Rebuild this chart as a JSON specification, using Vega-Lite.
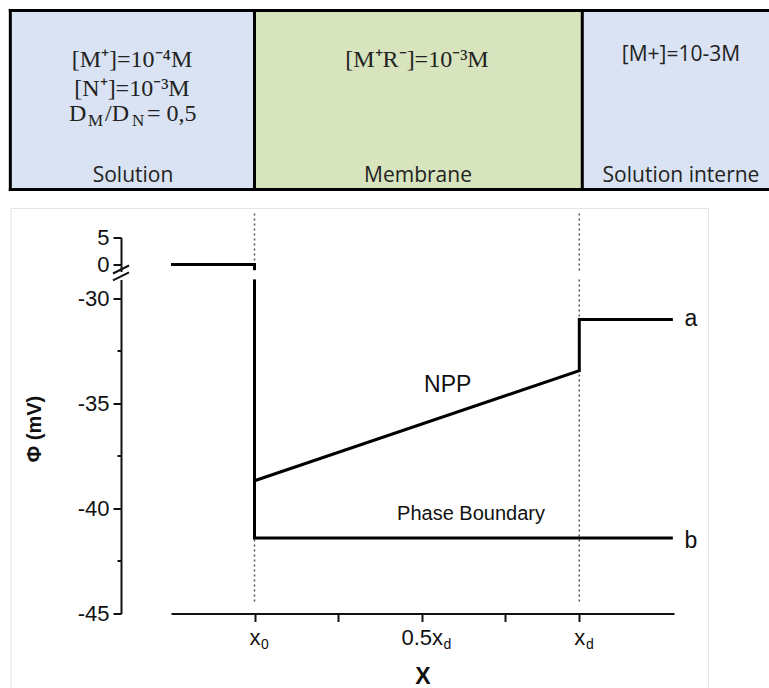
{
  "$schema": "https://vega.github.io/schema/vega-lite/v6.json",
  "autosize": {"type": "pad"},
  "padding": {"left": 8, "top": 7.5, "right": 0, "bottom": 0},
  "bounds": "flush",
  "spacing": 8,
  "background": "white",
  "config": {
    "view": {"stroke": null},
    "font": "Liberation Sans",
    "axis": {
      "grid": false,
      "domainColor": "#111111",
      "tickColor": "#111111",
      "labelColor": "#111111",
      "titleColor": "#111111",
      "domainWidth": 2,
      "tickWidth": 2,
      "labelFont": "Liberation Sans",
      "titleFont": "Liberation Sans",
      "labelOverlap": false,
      "labelFlush": false,
      "labelBound": false
    }
  },
  "datasets": {
    "boxes": [
      {"zone": "Solution", "x": -0.7518, "x2": 0, "y": 0, "y2": 100},
      {"zone": "Membrane", "x": 0, "x2": 1.0092, "y": 0, "y2": 100},
      {"zone": "Solution interne", "x": 1.0092, "x2": 1.5871, "y": 0, "y2": 100}
    ],
    "borders": [
      {"x": -0.7518, "x2": -0.7518, "y": 0, "y2": 100},
      {"x": 0, "x2": 0, "y": 0, "y2": 100},
      {"x": 1.0092, "x2": 1.0092, "y": 0, "y2": 100},
      {"x": -0.7518, "x2": 1.5825, "y": 0, "y2": 0},
      {"x": -0.7518, "x2": 1.5825, "y": 100, "y2": 100}
    ],
    "serifCentered": [
      {"t": "[M⁺]=10⁻⁴M", "x": -0.3772, "y": 72.6},
      {"t": "[N⁺]=10⁻³M", "x": -0.3772, "y": 56.4},
      {"t": "[M⁺R⁻]=10⁻³M", "x": 0.5003, "y": 72.1}
    ],
    "serifPieces": [
      {"t": "D", "x": -0.5711, "y": 41.9},
      {"t": "/D", "x": -0.4603, "y": 41.9},
      {"t": "= 0,5", "x": -0.3310, "y": 41.9}
    ],
    "subscripts": [
      {"t": "M", "x": -0.5126, "y": 38.0},
      {"t": "N", "x": -0.3772, "y": 38.0}
    ],
    "sansLabels": [
      {"t": "Solution", "x": -0.3741, "y": 7.8},
      {"t": "Membrane", "x": 0.5034, "y": 7.8},
      {"t": "Solution interne", "x": 1.3131, "y": 7.3},
      {"t": "[M+]=10-3M", "x": 1.3131, "y": 74.9}
    ],
    "topPath": [
      {"i": 0, "x": -0.2571, "y": 0},
      {"i": 1, "x": 0, "y": 0},
      {"i": 2, "x": 0, "y": -1.0}
    ],
    "topDotted": [
      {"x": 0, "y": 9.44, "y2": -1.3},
      {"x": 1, "y": 9.44, "y2": -1.3}
    ],
    "topFrame": [
      {"x": -0.7497, "x2": 1.3978, "y": 10.37, "y2": 10.37},
      {"x": -0.7497, "x2": -0.7497, "y": 10.37, "y2": -1.3},
      {"x": 1.3978, "x2": 1.3978, "y": 10.37, "y2": -1.3}
    ],
    "breakMarks": [
      {"x": -0.4357, "x2": -0.3864, "y": -1.67, "y2": -0.185},
      {"x": -0.4357, "x2": -0.3864, "y": -2.96, "y2": -1.48}
    ],
    "mainFrame": [
      {"x": -0.7497, "y": -28.714, "y2": -48.62},
      {"x": 1.3978, "y": -28.714, "y2": -48.62}
    ],
    "mainDotted": [
      {"x": 0, "y": -29.1, "y2": -44.43},
      {"x": 1, "y": -29.1, "y2": -44.43}
    ],
    "profiles": [
      {"series": "a", "i": 0, "x": 0, "y": -38.68},
      {"series": "a", "i": 1, "x": 1, "y": -33.44},
      {"series": "a", "i": 2, "x": 1, "y": -31.01},
      {"series": "a", "i": 3, "x": 1.288, "y": -31.01},
      {"series": "b", "i": 0, "x": 0, "y": -29.1},
      {"series": "b", "i": 1, "x": 0, "y": -41.41},
      {"series": "b", "i": 2, "x": 1.288, "y": -41.41}
    ],
    "bigLabels": [
      {"t": "NPP", "x": 0.5948, "y": -34.14},
      {"t": "a", "x": 1.3439, "y": -31.0},
      {"t": "b", "x": 1.3439, "y": -41.57}
    ],
    "smallLabels": [
      {"t": "Phase Boundary", "x": 0.6666, "y": -40.24}
    ]
  },
  "vconcat": [
    {
      "width": 503,
      "height": 219,
      "encoding": {
        "x": {"field": "x", "type": "quantitative", "axis": null, "scale": {"domain": [-0.2571, 1.2916], "nice": false, "zero": false}},
        "y": {"field": "y", "type": "quantitative", "axis": null, "scale": {"domain": [-22.35, 100], "nice": false, "zero": false}}
      },
      "layer": [
        {
          "data": {"name": "boxes"},
          "mark": {"type": "rect", "clip": false, "opacity": 1},
          "encoding": {
            "x2": {"field": "x2"},
            "y2": {"field": "y2"},
            "fill": {"field": "zone", "type": "nominal", "legend": null, "scale": {"domain": ["Solution", "Membrane", "Solution interne"], "range": ["#d9e3f3", "#d7e4bd", "#d9e3f3"]}}
          }
        },
        {
          "data": {"name": "borders"},
          "mark": {"type": "rule", "color": "#000000", "strokeWidth": 3, "strokeCap": "square"},
          "encoding": {"x2": {"field": "x2"}, "y2": {"field": "y2"}}
        },
        {
          "data": {"name": "serifCentered"},
          "mark": {"type": "text", "font": "Liberation Serif", "fontSize": 24, "color": "#222222", "align": "center", "baseline": "middle"},
          "encoding": {"text": {"field": "t"}}
        },
        {
          "data": {"name": "serifPieces"},
          "mark": {"type": "text", "font": "Liberation Serif", "fontSize": 24, "color": "#222222", "align": "left", "baseline": "middle"},
          "encoding": {"text": {"field": "t"}}
        },
        {
          "data": {"name": "subscripts"},
          "mark": {"type": "text", "font": "Liberation Serif", "fontSize": 17, "color": "#222222", "align": "left", "baseline": "middle"},
          "encoding": {"text": {"field": "t"}}
        },
        {
          "data": {"name": "sansLabels"},
          "mark": {"type": "text", "font": "Open Sans", "fontSize": 21, "color": "#222222", "align": "center", "baseline": "middle"},
          "encoding": {"text": {"field": "t"}}
        }
      ]
    },
    {
      "width": 503,
      "height": 34,
      "encoding": {
        "x": {"field": "x", "type": "quantitative", "axis": null, "scale": {"domain": [-0.2571, 1.2916], "nice": false, "zero": false}},
        "y": {
          "field": "y", "type": "quantitative",
          "scale": {"domain": [-1.3, 5], "nice": false, "zero": false},
          "axis": {"title": null, "values": [0, 5], "labelExpr": "'' + datum.value", "offset": 50, "tickSize": 8, "labelFontSize": 22, "labelPadding": 4}
        }
      },
      "layer": [
        {
          "data": {"name": "topFrame"},
          "mark": {"type": "rule", "color": "#e4e4e4", "strokeWidth": 1},
          "encoding": {"x2": {"field": "x2"}, "y2": {"field": "y2"}}
        },
        {
          "data": {"name": "topDotted"},
          "mark": {"type": "rule", "color": "#555555", "strokeWidth": 1.5, "strokeDash": [2, 3]},
          "encoding": {"y2": {"field": "y2"}}
        },
        {
          "data": {"name": "topPath"},
          "mark": {"type": "line", "color": "#000000", "strokeWidth": 3, "strokeJoin": "miter"},
          "encoding": {"order": {"field": "i"}}
        },
        {
          "data": {"name": "breakMarks"},
          "mark": {"type": "rule", "color": "#111111", "strokeWidth": 2},
          "encoding": {"x2": {"field": "x2"}, "y2": {"field": "y2"}}
        }
      ]
    },
    {
      "width": 503,
      "height": 334,
      "encoding": {
        "x": {"field": "x", "type": "quantitative", "axis": null, "scale": {"domain": [-0.2571, 1.2916], "nice": false, "zero": false}},
        "y": {
          "field": "y", "type": "quantitative",
          "scale": {"domain": [-45, -29.1], "nice": false, "zero": false},
          "axis": {
            "title": "Φ (mV)",
            "values": [-45, -42.5, -40, -37.5, -35, -32.5, -30],
            "labelExpr": "datum.value % 5 === 0 ? '' + datum.value : ''",
            "tickSize": {"condition": {"test": "datum.value % 5 !== 0", "value": 4}, "value": 8},
            "offset": 50,
            "labelFontSize": 22,
            "labelPadding": 4,
            "titleFontSize": 20,
            "titleFontWeight": "bold",
            "titleX": -77,
            "titleY": 149
          }
        }
      },
      "resolve": {"axis": {"x": "independent"}},
      "layer": [
        {
          "data": {"name": "mainFrame"},
          "mark": {"type": "rule", "color": "#e4e4e4", "strokeWidth": 1},
          "encoding": {"y2": {"field": "y2"}}
        },
        {
          "data": {"name": "mainDotted"},
          "mark": {"type": "rule", "color": "#555555", "strokeWidth": 1.5, "strokeDash": [2, 3]},
          "encoding": {
            "x": {
              "field": "x", "type": "quantitative",
              "scale": {"domain": [-0.2571, 1.2916], "nice": false, "zero": false},
              "axis": {
                "orient": "bottom",
                "title": null,
                "domain": false,
                "ticks": false,
                "tickSize": 0,
                "values": [0, 0.515, 1],
                "labelExpr": "datum.value === 0 ? '0' : 'd'",
                "labelFontSize": 14,
                "labelPadding": 24,
                "labelOffset": {"condition": {"test": "datum.value === 0.515", "value": 25}, "value": 10}
              }
            },
            "y2": {"field": "y2"}
          }
        },
        {
          "data": {"name": "profiles"},
          "mark": {"type": "line", "color": "#000000", "strokeWidth": 3, "strokeJoin": "miter"},
          "encoding": {
            "x": {
              "field": "x", "type": "quantitative",
              "scale": {"domain": [-0.2571, 1.2916], "nice": false, "zero": false},
              "axis": {
                "orient": "bottom",
                "title": "X",
                "titleFontSize": 23,
                "titleFontWeight": "bold",
                "titlePadding": 17,
                "values": [0, 0.2575, 0.515, 0.7725, 1],
                "labelExpr": "datum.value === 0 ? 'x' : datum.value === 0.515 ? '0.5x' : datum.value === 1 ? 'x' : ''",
                "tickSize": 8,
                "labelFontSize": 22,
                "labelPadding": 6
              }
            },
            "detail": {"field": "series", "type": "nominal"},
            "order": {"field": "i"}
          }
        },
        {
          "data": {"name": "bigLabels"},
          "mark": {"type": "text", "font": "Liberation Sans", "fontSize": 23, "color": "#111111", "align": "center", "baseline": "middle"},
          "encoding": {"text": {"field": "t"}}
        },
        {
          "data": {"name": "smallLabels"},
          "mark": {"type": "text", "font": "Liberation Sans", "fontSize": 20, "color": "#111111", "align": "center", "baseline": "middle"},
          "encoding": {"text": {"field": "t"}}
        }
      ]
    }
  ]
}
